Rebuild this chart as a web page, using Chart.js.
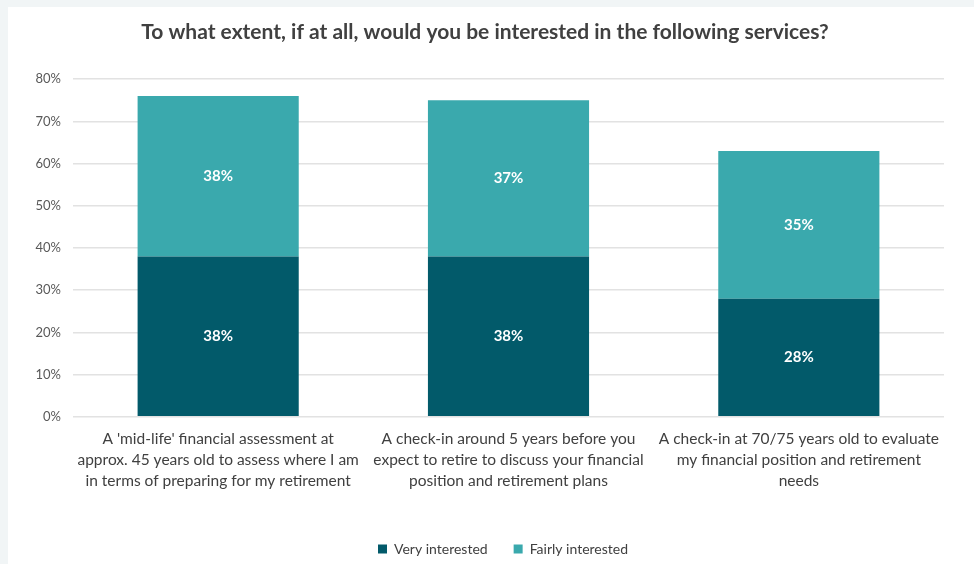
<!DOCTYPE html>
<html>
<head>
<meta charset="utf-8">
<script src="https://cdn.jsdelivr.net/npm/chart.js@4.4.1/dist/chart.umd.min.js"></script>
<style>
  html, body { margin: 0; padding: 0; background: #f1f5f6; }
  body { width: 974px; height: 564px; position: relative; overflow: hidden; }
  .card { position: absolute; left: 8px; top: 7px; width: 966px; height: 557px; background: #ffffff; }
  canvas { display: block; }
</style>
</head>
<body>
<div class="card"><canvas id="servicesChart" width="966" height="557"></canvas></div>
<script>
// survey results, share of respondents (%)
const services = [
    ["A 'mid-life' financial assessment at", "approx. 45 years old to assess where I am", "in terms of preparing for my retirement"],
    ["A check-in around 5 years before you", "expect to retire to discuss your financial", "position and retirement plans"],
    ["A check-in at 70/75 years old to evaluate", "my financial position and retirement", "needs"]
];
const veryInterested = [38, 38, 28];
const fairlyInterested = [38, 37, 35];
const yTicks = [0, 10, 20, 30, 40, 50, 60, 70, 80];

const FONT = 'Lato, "Source Sans Pro", "Noto Sans", sans-serif';

// white value labels in the middle of each stacked segment
const segmentLabels = {
    id: 'segmentLabels',
    afterDatasetsDraw(chart) {
        const ctx = chart.ctx;
        ctx.save();
        ctx.fillStyle = '#ffffff';
        ctx.font = 'bold 15px ' + FONT;
        ctx.textAlign = 'center';
        ctx.textBaseline = 'middle';
        chart.data.datasets.forEach((ds, i) => {
            const meta = chart.getDatasetMeta(i);
            meta.data.forEach((bar, j) => {
                const mid = (bar.y + bar.base) / 2;
                ctx.fillText(ds.data[j] + '%', bar.x, mid);
            });
        });
        ctx.restore();
    }
};

// legend sits a little right of the plot's centre and near the bottom edge
const legendShift = {
    id: 'legendShift',
    afterLayout(chart) {
        chart.legend.left += 18;
        chart.legend.right += 18;
        chart.legend.top += 2;
        chart.legend.bottom += 2;
    }
};

new Chart(document.getElementById('servicesChart'), {
    type: 'bar',
    data: {
        labels: services,
        datasets: [{
            label: 'Very interested',
            data: veryInterested,
            backgroundColor: '#025a6a',
            barPercentage: 0.555,
            categoryPercentage: 1
        }, {
            label: 'Fairly interested',
            data: fairlyInterested,
            backgroundColor: '#3aa9ad',
            barPercentage: 0.555,
            categoryPercentage: 1
        }]
    },
    options: {
        responsive: false,
        animation: false,
        layout: { padding: { left: 18, right: 30, top: 0, bottom: 0 } },
        plugins: {
            title: {
                display: true,
                text: 'To what extent, if at all, would you be interested in the following services?',
                color: '#404040',
                font: { family: FONT, size: 21, weight: 'bold' },
                padding: { top: 13, bottom: 34 }
            },
            legend: {
                position: 'bottom',
                labels: {
                    color: '#404040',
                    font: { family: FONT, size: 14 },
                    boxWidth: 9,
                    boxHeight: 9,
                    padding: 26
                }
            },
            tooltip: { enabled: false }
        },
        scales: {
            x: {
                stacked: true,
                grid: { display: false },
                border: { display: false },
                afterFit(axis) {
                    axis.height += 19;
                },
                ticks: {
                    color: '#404040',
                    font: { family: FONT, size: 15.5, lineHeight: 1.38 },
                    maxRotation: 0,
                    autoSkip: false,
                    padding: 3
                }
            },
            y: {
                stacked: true,
                min: 0,
                max: 80,
                afterBuildTicks(axis) {
                    axis.ticks = yTicks.map(v => ({ value: v }));
                },
                afterFit(axis) {
                    axis.width = 47;
                },
                grid: { color: '#e2e2e2', lineWidth: 1.5, drawTicks: false },
                border: { display: false },
                ticks: {
                    color: '#595959',
                    font: { family: FONT, size: 13 },
                    padding: 12,
                    callback: v => v + '%'
                }
            }
        }
    },
    plugins: [segmentLabels, legendShift]
});
</script>
</body>
</html>
